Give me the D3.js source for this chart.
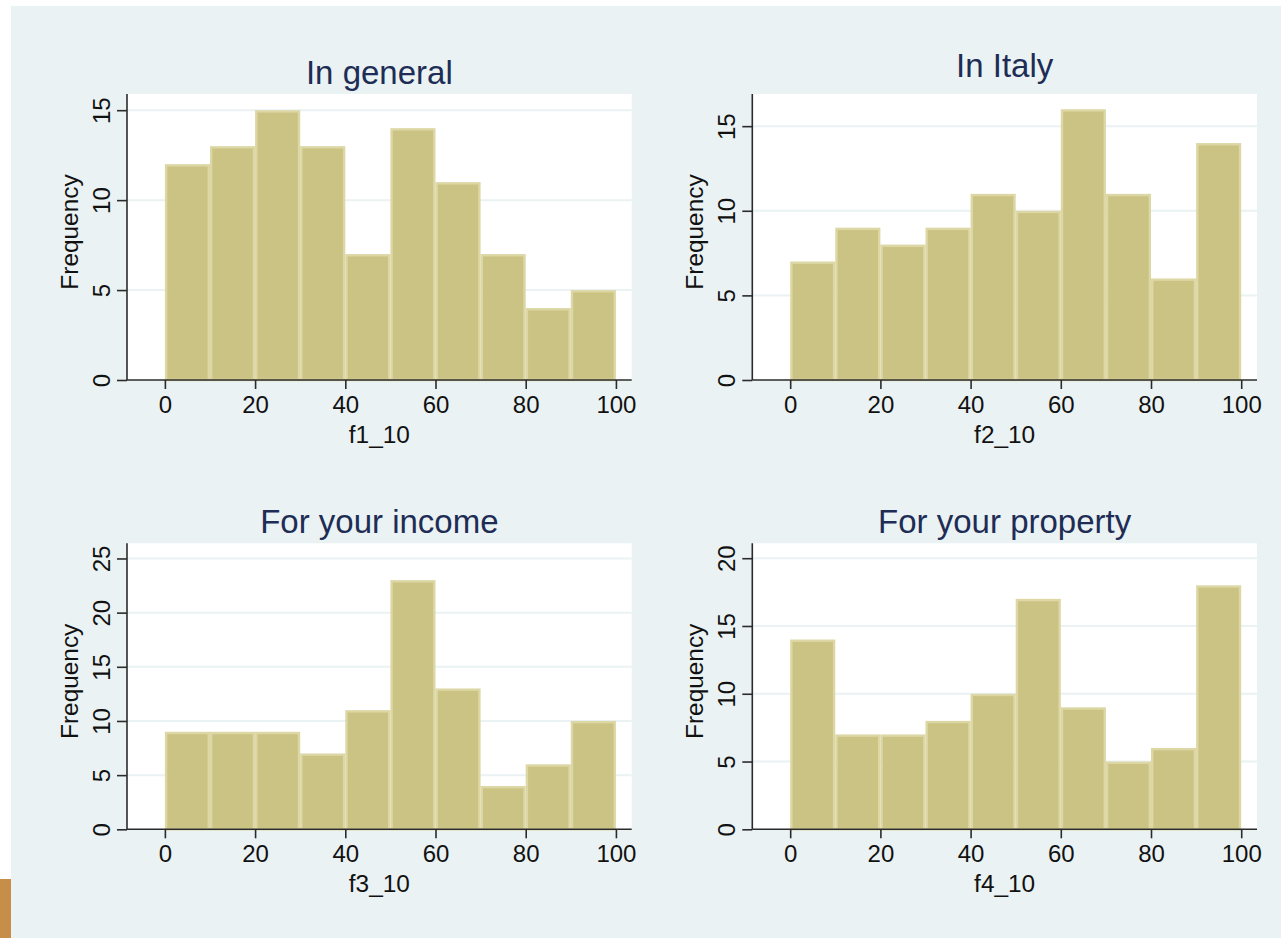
<!DOCTYPE html>
<html>
<head>
<meta charset="utf-8">
<script src="https://cdn.jsdelivr.net/npm/d3@7"></script>
<style>
  html, body { margin: 0; padding: 0; background: #ffffff; }
  svg { display: block; font-family: "Liberation Sans", Arial, sans-serif; }
</style>
</head>
<body>
<svg id="chart" width="1281" height="938"></svg>
<script>
// Histogram bins: width 10, from 0 to 100
const binStarts = [0, 10, 20, 30, 40, 50, 60, 70, 80, 90];
const binWidth = 10;

// Frequencies per bin for each variable
const f1Counts = [12, 13, 15, 13, 7, 14, 11, 7, 4, 5];
const f2Counts = [7, 9, 8, 9, 11, 10, 16, 11, 6, 14];
const f3Counts = [9, 9, 9, 7, 11, 23, 13, 4, 6, 10];
const f4Counts = [14, 7, 7, 8, 10, 17, 9, 5, 6, 18];

// Panel titles and x-axis variable names
const titles = ["In general", "In Italy", "For your income", "For your property"];
const varNames = ["f1_10", "f2_10", "f3_10", "f4_10"];

// Tick labels
const xTicks = [0, 20, 40, 60, 80, 100];
const yTicks1 = [0, 5, 10, 15];
const yTicks2 = [0, 5, 10, 15];
const yTicks3 = [0, 5, 10, 15, 20, 25];
const yTicks4 = [0, 5, 10, 15, 20];

// Axis ranges
const xDomain = [-8.4, 103.5];
const yMax = [15.9, 16.9, 26.4, 21.1];

const countsList = [f1Counts, f2Counts, f3Counts, f4Counts];
const yTicksList = [yTicks1, yTicks2, yTicks3, yTicks4];

// Layout of the 2x2 grid
const plotW = 504.7, plotH = 286;
const lefts = [127, 752.3, 127, 752.3];
const tops = [94, 94, 543.3, 543.3];
const titleBaselines = [84, 77, 533, 533];

const colors = {
  outer: "#eaf2f3",
  plot: "#ffffff",
  grid: "#eaf2f3",
  barFill: "#cbc383",
  barStroke: "#dcd7a4",
  axis: "#2b2b2b",
  text: "#111111",
  title: "#1e2d55",
  accent: "#c68e48"
};

const svg = d3.select("#chart");

// Graph background
svg.append("rect").attr("x", 11).attr("y", 6).attr("width", 1281 - 11).attr("height", 938 - 6)
  .attr("fill", colors.outer);
svg.append("rect").attr("x", 0).attr("y", 879).attr("width", 11).attr("height", 59)
  .attr("fill", colors.accent);

const tickFont = 24;
const labelFont = 24.4;

countsList.forEach((counts, i) => {
  const g = svg.append("g").attr("transform", `translate(${lefts[i]},${tops[i]})`);

  const x = d3.scaleLinear().domain(xDomain).range([0, plotW]);
  const y = d3.scaleLinear().domain([0, yMax[i]]).range([plotH, 0]);

  // plot region
  g.append("rect").attr("width", plotW).attr("height", plotH).attr("fill", colors.plot);

  // horizontal grid lines
  g.append("g").selectAll("line").data(yTicksList[i].filter(t => t > 0)).join("line")
    .attr("x1", 0).attr("x2", plotW)
    .attr("y1", d => y(d)).attr("y2", d => y(d))
    .attr("stroke", colors.grid).attr("stroke-width", 2);

  // bars
  const sw = 2.4;
  g.append("g").selectAll("rect").data(binStarts.map((s, k) => ({ s, c: counts[k] }))).join("rect")
    .attr("x", d => x(d.s) + sw / 2)
    .attr("y", d => y(d.c) + sw / 2)
    .attr("width", d => x(d.s + binWidth) - x(d.s) - sw)
    .attr("height", d => y(0) - y(d.c) - sw / 2)
    .attr("fill", colors.barFill)
    .attr("stroke", colors.barStroke)
    .attr("stroke-width", sw);

  // y axis
  const yAxis = d3.axisLeft(y).tickValues(yTicksList[i]).tickSize(10).tickPadding(0)
    .tickFormat(d3.format("d"));
  const ya = g.append("g").call(yAxis);
  ya.select(".domain").attr("d", `M0,0V${plotH}`).attr("stroke", colors.axis).attr("stroke-width", 1.6);
  ya.selectAll(".tick line").attr("stroke", colors.axis).attr("stroke-width", 1.6);
  ya.selectAll(".tick text")
    .attr("x", null).attr("dy", null)
    .attr("transform", "translate(-26,0) rotate(-90)")
    .attr("text-anchor", "middle")
    .attr("dominant-baseline", "central")
    .attr("fill", colors.text)
    .style("font-size", tickFont + "px")
    .style("font-family", '"Liberation Sans", Arial, sans-serif');

  // x axis
  const xAxis = d3.axisBottom(x).tickValues(xTicks).tickSize(9).tickPadding(0)
    .tickFormat(d3.format("d"));
  const xa = g.append("g").attr("transform", `translate(0,${plotH})`).call(xAxis);
  xa.select(".domain").attr("d", `M0,0H${plotW}`).attr("stroke", colors.axis).attr("stroke-width", 1.6);
  xa.selectAll(".tick line").attr("stroke", colors.axis).attr("stroke-width", 1.6);
  xa.selectAll(".tick text")
    .attr("y", 33).attr("dy", null)
    .attr("fill", colors.text)
    .style("font-size", tickFont + "px")
    .style("font-family", '"Liberation Sans", Arial, sans-serif');

  // axis titles
  g.append("text")
    .attr("transform", `translate(-58,${plotH / 2 - 5}) rotate(-90)`)
    .attr("text-anchor", "middle")
    .attr("dominant-baseline", "central")
    .attr("fill", colors.text)
    .style("font-size", labelFont + "px")
    .text("Frequency");

  g.append("text")
    .attr("x", plotW / 2).attr("y", plotH + 63)
    .attr("text-anchor", "middle")
    .attr("fill", colors.text)
    .style("font-size", labelFont + "px")
    .text(varNames[i]);

  // panel title
  svg.append("text")
    .attr("x", lefts[i] + plotW / 2).attr("y", titleBaselines[i])
    .attr("text-anchor", "middle")
    .attr("fill", colors.title)
    .style("font-size", "33px")
    .text(titles[i]);
});
</script>
</body>
</html>
